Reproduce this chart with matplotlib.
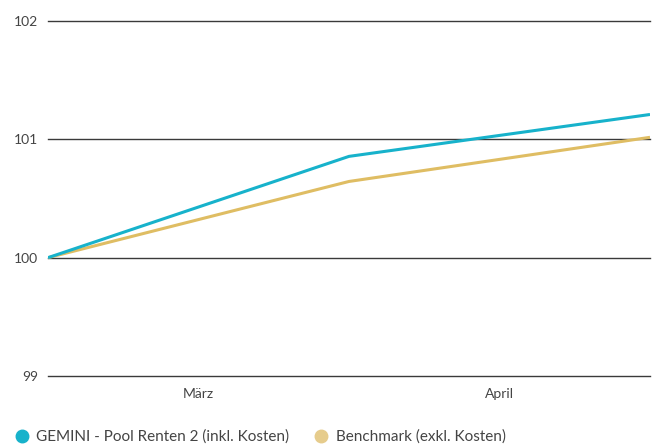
import matplotlib
matplotlib.use("Agg")
import matplotlib.pyplot as plt
from matplotlib.lines import Line2D

plt.rcParams['font.family'] = ['Lato', 'DejaVu Sans']

x_points = [0, 1, 2]
gemini = [100.0, 100.856, 101.21]
benchmark = [100.0, 100.644, 101.017]
month_labels = ["März", "April"]
month_pos = [0.5, 1.5]
y_ticks = [99, 100, 101, 102]

blue = "#17b2cb"
gold = "#dfbd63"

fig = plt.figure(figsize=(6.6, 4.45), dpi=100)
ax = fig.add_axes([48/660, 1-376/445, (650-48)/660, (376-21)/445])
for y in y_ticks:
    ax.axhline(y, color="#3a3a3a", lw=1.0, zorder=1, clip_on=False)
ax.plot(x_points, benchmark, color=gold, lw=2.2, zorder=3, solid_capstyle='butt')
ax.plot(x_points, gemini, color=blue, lw=2.2, zorder=4, solid_capstyle='butt')
ax.set_xlim(0, 2)
ax.set_ylim(99, 102)
ax.set_yticks(y_ticks)
ax.set_yticklabels([str(t) for t in y_ticks])
ax.set_xticks(month_pos)
ax.set_xticklabels(month_labels)
ax.tick_params(axis='both', length=0, labelsize=10, labelcolor="#444444")
ax.tick_params(axis='y', pad=7)
ax.tick_params(axis='x', pad=9)
for s in ax.spines.values():
    s.set_visible(False)

handles = [
    Line2D([], [], marker='o', ls='', color=blue, markersize=9),
    Line2D([], [], marker='o', ls='', color="#e6cc8c", markersize=9),
]
fig.legend(handles, ["GEMINI - Pool Renten 2 (inkl. Kosten)", "Benchmark (exkl. Kosten)"],
           loc='center left', bbox_to_anchor=(14/660, 1-437/445), ncol=2, frameon=False,
           fontsize=11, labelcolor="#444444", handletextpad=0.45, columnspacing=1.6,
           handlelength=1.0, borderaxespad=0, borderpad=0)

fig.savefig("out.png", dpi=100)
